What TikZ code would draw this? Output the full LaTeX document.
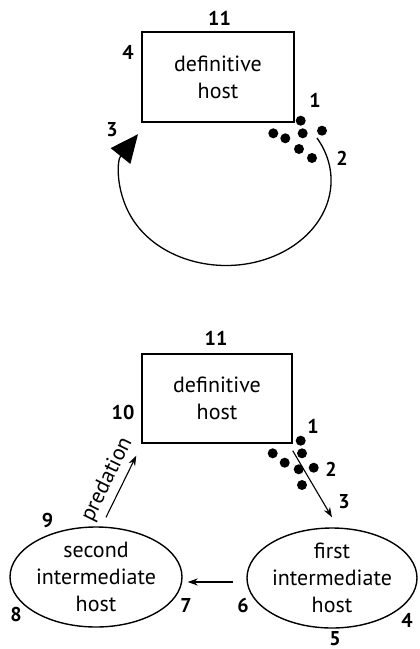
\documentclass[tikz,border=0pt]{standalone}
\usepackage{fontspec}
\setmainfont{PT Sans}
\usetikzlibrary{arrows.meta,shapes.geometric}

\begin{document}
\begin{tikzpicture}[x=1pt, y=-1pt,
	host/.style={draw=black, line width=1.4pt, inner sep=0pt, align=center,
		font=\fontsize{22}{27}\selectfont},
	num/.style={inner sep=0pt, font=\fontsize{20}{20}\selectfont\bfseries},
	flow/.style={-{Stealth[length=10pt,width=7pt]}, line width=1.1pt}]
	\useasboundingbox (0,0) rectangle (420,649);

	% one host only
	\node[host, rectangle, minimum width=152pt, minimum height=90pt] (defA) at (218,77) {definitive\\host};
	\foreach \x/\y in {300.7/120.7, 273.3/133.3, 285.3/138.3, 302.7/133.3, 322/130.7, 299/149, 312/158}
		\fill (\x,\y) circle (5pt);
	\coordinate (loopstart) at (317,138);
	\draw[line width=1.3pt, -{Triangle[length=28pt,width=25pt]}]
		(loopstart) arc[start angle=-30, end angle=213, x radius=105, y radius=85];

	\node[num] (a11) at (219.5,18) {11};
	\node[num] (a4)  at (128,52)   {4};
	\node[num] (a1)  at (315,100)  {1};
	\node[num] (a2)  at (342,158)  {2};
	\node[num] (a3)  at (112,130)  {3};

	% three hosts
	\node[host, rectangle, minimum width=150pt, minimum height=89pt] (defB) at (217,398.5) {definitive\\host};
	\node[host, ellipse, minimum width=170pt, minimum height=100pt] (first)  at (332,578) {first\\intermediate\\host};
	\node[host, ellipse, minimum width=172pt, minimum height=100pt] (second) at (96,577)  {second\\intermediate\\host};
	\foreach \x/\y in {300.7/440.7, 272.7/453.3, 284.7/462.7, 302/453.3, 298.7/469.3, 313.7/467.7, 302/485}
		\fill (\x,\y) circle (5pt);

	\path [flow] ([yshift=-7pt]defB.south east) edge ([yshift=10pt]first.north);
	\path [flow] ([xshift=-13pt,yshift=-4pt]first.west) edge ([xshift=5pt,yshift=-5pt]second.east);
	\path [flow] ([xshift=10pt,yshift=9pt]second.north) edge
		node[sloped, above=5pt, font=\fontsize{22}{22}\selectfont, inner sep=0pt] (pred) {predation}
		([xshift=-5pt,yshift=-12pt]defB.south west);

	\node[num] (b11) at (216,338) {11};
	\node[num] (b10) at (123,412) {10};
	\node[num] (b1)  at (313,426) {1};
	\node[num] (b2)  at (331,469) {2};
	\node[num] (b3)  at (344,502) {3};
	\node[num] (b9)  at (47.5,520) {9};
	\node[num] (b8)  at (16,614)  {8};
	\node[num] (b7)  at (186,605) {7};
	\node[num] (b6)  at (243,605) {6};
	\node[num] (b4)  at (407,620) {4};
	\node[num] (b5)  at (335,639) {5};
\end{tikzpicture}
\end{document}
